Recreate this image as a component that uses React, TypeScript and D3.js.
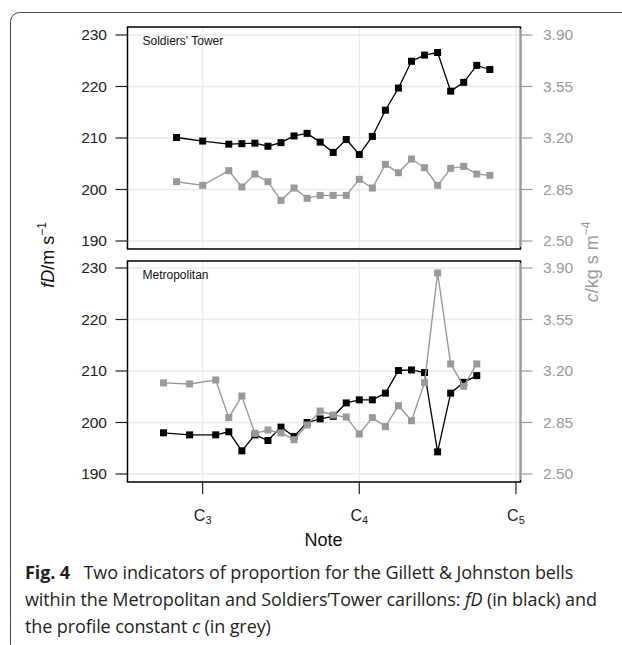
import React from "react";
import * as d3 from "d3";

// MIDI note numbers (C3 = 48, C4 = 60, C5 = 72)
const topNotes = [46, 48, 50, 51, 52, 53, 54, 55, 56, 57, 58, 59, 60, 61, 62, 63, 64, 65, 66, 67, 68, 69, 70];
const topFD = [210.1, 209.4, 208.8, 208.9, 209.0, 208.4, 209.1, 210.4, 210.9, 209.2, 207.2, 209.7, 206.8, 210.3, 215.4, 219.7, 224.9, 226.1, 226.6, 219.1, 220.8, 224.1, 223.3];
const topC = [2.903, 2.878, 2.978, 2.867, 2.955, 2.903, 2.776, 2.86, 2.79, 2.81, 2.81, 2.81, 2.919, 2.86, 3.021, 2.964, 3.057, 2.998, 2.878, 2.994, 3.007, 2.955, 2.946];

const botNotes = [45, 47, 49, 50, 51, 52, 53, 54, 55, 56, 57, 58, 59, 60, 61, 62, 63, 64, 65, 66, 67, 68, 69];
const botFD = [198.0, 197.6, 197.6, 198.2, 194.5, 197.6, 196.5, 199.1, 197.3, 200.0, 200.7, 201.2, 203.8, 204.4, 204.4, 205.7, 210.1, 210.2, 209.7, 194.3, 205.7, 207.8, 209.1];
const botC = [3.119, 3.112, 3.139, 2.883, 3.03, 2.776, 2.799, 2.779, 2.733, 2.833, 2.928, 2.901, 2.887, 2.772, 2.883, 2.822, 2.964, 2.862, 3.121, 3.866, 3.248, 3.096, 3.248];

const fdTicks = [190, 200, 210, 220, 230];
const cTicks = [2.5, 2.85, 3.2, 3.55, 3.9];
const noteTicks = [48, 60, 72];
const noteTickLabels = [["C", "3"], ["C", "4"], ["C", "5"]];

const panels = [
  { name: "Soldiers' Tower", notes: topNotes, fd: topFD, c: topC, y0: 35, y1: 241, boxTop: 27, boxBottom: 249 },
  { name: "Metropolitan", notes: botNotes, fd: botFD, c: botC, y0: 268, y1: 474, boxTop: 261, boxBottom: 482 },
];

const LEFT = 127.5;
const RIGHT = 520.5;
const GREY = "#999999";
const FONT = "'Liberation Sans', Arial, Helvetica, sans-serif";
const CAPFONT = "'Open Sans', 'Noto Sans', sans-serif";

export default function App() {
  const x = d3.scaleLinear().domain([42.24, 72.35]).range([LEFT, RIGHT]);
  const M = 3.5;
  const cap = { fontFamily: CAPFONT, fontSize: 18, fill: "#231f20", letterSpacing: -0.1 };
  return (
    <svg width={622} height={645} style={{ display: "block", position: "absolute", left: 0, top: 0 }}>
      <rect x={0} y={0} width={622} height={645} fill="#fff" />
      <rect x={10.5} y={12.5} width={700} height={640} rx={9} fill="none" stroke="#444" strokeWidth={1} />
      {panels.map((p, pi) => {
        const y = d3.scaleLinear().domain([190, 230]).range([p.y1, p.y0]);
        const yc = d3.scaleLinear().domain([2.5, 3.9]).range([p.y1, p.y0]);
        const lineFD = d3.line<number>().x((_, i) => x(p.notes[i])).y((d) => y(d));
        const lineC = d3.line<number>().x((_, i) => x(p.notes[i])).y((d) => yc(d));
        return (
          <g key={pi}>
            {fdTicks.map((t) => (
              <line key={"h" + t} x1={LEFT} x2={RIGHT} y1={y(t)} y2={y(t)} stroke="#ebebeb" strokeWidth={1.3} />
            ))}
            {noteTicks.map((t) => (
              <line key={"v" + t} x1={x(t)} x2={x(t)} y1={p.boxTop} y2={p.boxBottom} stroke="#ebebeb" strokeWidth={1.3} />
            ))}
            <path d={lineFD(p.fd) || ""} fill="none" stroke="#000" strokeWidth={1.3} />
            {p.fd.map((v, i) => (
              <rect key={"b" + i} x={x(p.notes[i]) - M} y={y(v) - M} width={2 * M} height={2 * M} fill="#000" />
            ))}
            <path d={lineC(p.c) || ""} fill="none" stroke={GREY} strokeWidth={1.4} />
            {p.c.map((v, i) => (
              <rect key={"g" + i} x={x(p.notes[i]) - M} y={yc(v) - M} width={2 * M} height={2 * M} fill={GREY} />
            ))}
            <rect x={LEFT} y={p.boxTop} width={RIGHT - LEFT} height={p.boxBottom - p.boxTop} fill="none" stroke="#000" strokeWidth={1.5} />
            <line x1={RIGHT} x2={RIGHT} y1={p.boxTop + 2} y2={p.boxBottom - 2} stroke={GREY} strokeWidth={1.5} />
            {fdTicks.map((t) => (
              <g key={"l" + t}>
                <line x1={LEFT - 12} x2={LEFT} y1={y(t)} y2={y(t)} stroke="#222" strokeWidth={1.2} />
                <text x={107} y={y(t)} dy="0.35em" textAnchor="end" fontFamily={FONT} fontSize={15.5} fill="#222">
                  {t}
                </text>
              </g>
            ))}
            {cTicks.map((t) => (
              <g key={"r" + t}>
                <line x1={RIGHT} x2={RIGHT + 12} y1={yc(t)} y2={yc(t)} stroke={GREY} strokeWidth={1.2} />
                <text x={543} y={yc(t)} dy="0.35em" textAnchor="start" fontFamily={FONT} fontSize={15.5} fill={GREY}>
                  {t.toFixed(2)}
                </text>
              </g>
            ))}
            <text x={LEFT + 15} y={p.boxTop + 18} fontFamily={FONT} fontSize={12} fill="#111">
              {p.name}
            </text>
          </g>
        );
      })}
      {noteTicks.map((t, i) => (
        <g key={"x" + t}>
          <line x1={x(t)} x2={x(t)} y1={482} y2={494} stroke="#222" strokeWidth={1.2} />
          <text x={x(t)} y={521} textAnchor="middle" fontFamily={FONT} fontSize={16} fill="#222">
            {noteTickLabels[i][0]}
            <tspan fontSize={11} dy={3}>{noteTickLabels[i][1]}</tspan>
          </text>
        </g>
      ))}
      <text x={323.5} y={546} textAnchor="middle" fontFamily={FONT} fontSize={18} fill="#111">
        Note
      </text>
      <text transform="translate(54,255) rotate(-90)" textAnchor="middle" fontFamily={FONT} fontSize={18} fill="#111">
        <tspan fontStyle="italic">f</tspan>
        <tspan fontStyle="italic">D</tspan>
        <tspan>/m s</tspan>
        <tspan fontSize={12} dy={-8}>−1</tspan>
      </text>
      <text transform="translate(598,262) rotate(-90)" textAnchor="middle" fontFamily={FONT} fontSize={18} fill={GREY}>
        <tspan fontStyle="italic">c</tspan>
        <tspan>/kg s m</tspan>
        <tspan fontSize={12} dy={-8}>−4</tspan>
      </text>
      <text x={25} y={579} {...cap}>
        <tspan fontWeight="bold">Fig. 4</tspan>
        <tspan>{"\u2002 Two indicators of proportion for the Gillett & Johnston bells"}</tspan>
      </text>
      <text x={25} y={606} {...cap}>
        <tspan>{"within the Metropolitan and Soldiers’Tower carillons: "}</tspan>
        <tspan fontStyle="italic">fD</tspan>
        <tspan>{" (in black) and"}</tspan>
      </text>
      <text x={25} y={633} {...cap}>
        <tspan>{"the profile constant "}</tspan>
        <tspan fontStyle="italic">c</tspan>
        <tspan>{" (in grey)"}</tspan>
      </text>
    </svg>
  );
}
